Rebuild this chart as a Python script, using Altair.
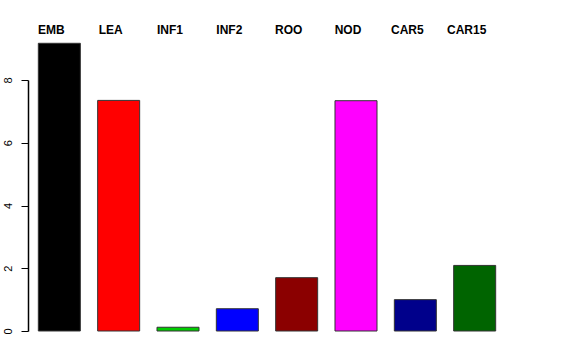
import altair as alt
import pandas as pd

categories = ["EMB", "LEA", "INF1", "INF2", "ROO", "NOD", "CAR5", "CAR15"]
values = [9.17, 7.35, 0.12, 0.71, 1.70, 7.34, 1.00, 2.09]
colors = ["#000000", "#FF0000", "#00CD00", "#0000FF", "#8B0000", "#FF00FF", "#00008B", "#006400"]
y_ticks = [0, 2, 4, 6, 8]

df = pd.DataFrame({"cat": categories, "val": values, "col": colors})

xscale = alt.Scale(domain=categories, paddingInner=0.292, paddingOuter=0.174)
# the axis spans 0..8 like R; taller bars extend above the plot area (no clipping)
yscale = alt.Scale(domain=[y_ticks[0], y_ticks[-1]], nice=False, zero=True)

bars = alt.Chart(df).mark_bar(stroke="#333333", strokeWidth=1, clip=False).encode(
    x=alt.X("cat:N", scale=xscale, axis=None, sort=categories),
    y=alt.Y("val:Q", scale=yscale,
            axis=alt.Axis(values=y_ticks, title=None, grid=False, domain=True,
                          domainColor="#000000", domainWidth=1.5, domainOpacity=1,
                          tickSize=7, tickColor="#000000", labelAngle=-90,
                          labelFont="Liberation Sans", labelFontSize=11,
                          labelColor="#000000", labelPadding=8,
                          labelAlign="center", labelBaseline="bottom")),
    color=alt.Color("col:N", scale=None),
)

labels = alt.Chart(df).mark_text(
    font="Liberation Sans", fontWeight="bold", fontSize=12, color="#000000",
    align="center", baseline="alphabetic", dx=-8
).encode(
    x=alt.X("cat:N", scale=xscale, sort=categories),
    y=alt.value(-46),
    text="cat:N",
)

chart = alt.layer(bars, labels).properties(
    width=478, height=251,
    background="white",
    autosize=alt.AutoSizeParams(type="none"),
    padding={"left": 28, "top": 80, "right": 70, "bottom": 29},
).configure_view(strokeWidth=0)

chart.save("out.html", embed_options={"renderer": "svg", "actions": False})
